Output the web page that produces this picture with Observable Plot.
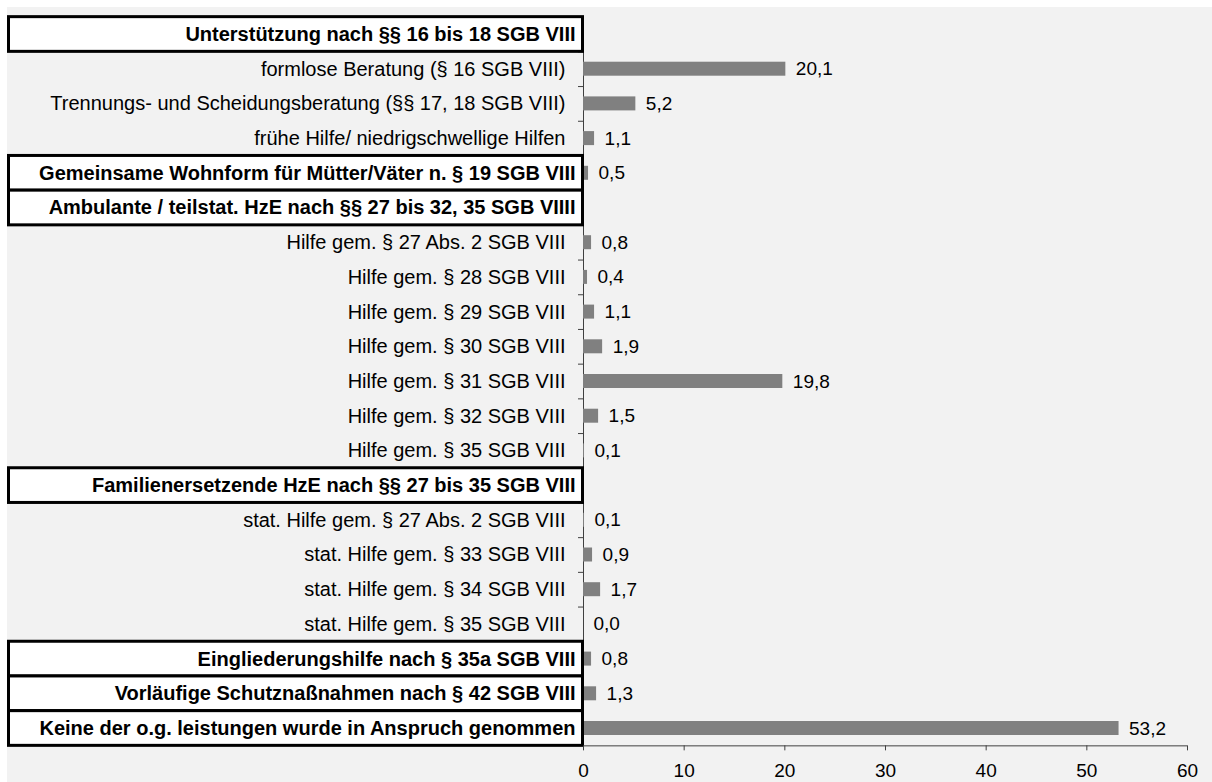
<!DOCTYPE html>
<html>
<head>
<meta charset="utf-8">
<script src="https://cdn.jsdelivr.net/npm/d3@7"></script>
<script src="https://cdn.jsdelivr.net/npm/@observablehq/plot@0.6"></script>
<style>
  html, body { margin: 0; padding: 0; background: #ffffff; }
  #chart { position: absolute; left: 7px; top: 7px; }
  #chart svg { display: block; }
</style>
</head>
<body>
<div id="chart"></div>
<script>
const categories = [
  "Unterstützung nach §§ 16 bis 18 SGB VIII",
  "formlose Beratung (§ 16 SGB VIII)",
  "Trennungs- und Scheidungsberatung (§§ 17, 18 SGB VIII)",
  "frühe Hilfe/ niedrigschwellige Hilfen",
  "Gemeinsame Wohnform für Mütter/Väter n. § 19 SGB VIII",
  "Ambulante / teilstat. HzE nach §§ 27 bis 32, 35 SGB VIIII",
  "Hilfe gem. § 27 Abs. 2 SGB VIII",
  "Hilfe gem. § 28 SGB VIII",
  "Hilfe gem. § 29 SGB VIII",
  "Hilfe gem. § 30 SGB VIII",
  "Hilfe gem. § 31 SGB VIII",
  "Hilfe gem. § 32 SGB VIII",
  "Hilfe gem. § 35 SGB VIII",
  "Familienersetzende HzE nach §§ 27 bis 35 SGB VIII",
  "stat. Hilfe gem. § 27 Abs. 2 SGB VIII",
  "stat. Hilfe gem. § 33 SGB VIII",
  "stat. Hilfe gem. § 34 SGB VIII",
  "stat. Hilfe gem. § 35 SGB VIII",
  "Eingliederungshilfe nach § 35a SGB VIII",
  "Vorläufige Schutznaßnahmen nach § 42 SGB VIII",
  "Keine der o.g. leistungen wurde in Anspruch genommen"
];
const values = [null, 20.1, 5.2, 1.1, 0.5, null, 0.8, 0.4, 1.1, 1.9, 19.8, 1.5, 0.1, null, 0.1, 0.9, 1.7, 0.0, 0.8, 1.3, 53.2];
const isHeader = [true, false, false, false, true, true, false, false, false, false, false, false, false, true, false, false, false, false, true, true, true];
const xTicks = [0, 10, 20, 30, 40, 50, 60];

const rows = categories.map((c, i) => ({category: c, value: values[i], header: isHeader[i]}));
const valueRows = rows.filter(d => d.value !== null);
const headerRows = rows.filter(d => d.header);
const plainRows = rows.filter(d => !d.header);
const gridData = [];
for (const t of xTicks.filter(t => t > 0)) for (const c of categories.slice(1)) gridData.push({x: t, y: c});

const W = 1205, H = 775;
const mL = 576, mR = 25, mT = 9.65, mB = 36.65;
const band = (H - mT - mB) / categories.length;
const barThickness = 14;
const barInset = (band - barThickness) / 2;
const fmt = v => v.toFixed(1).replace(".", ",");
const font = "'Liberation Sans', Arial, sans-serif";

const chart = Plot.plot({
  width: W,
  height: H,
  marginLeft: mL,
  marginRight: mR,
  marginTop: mT,
  marginBottom: mB,
  style: {background: "#f2f2f2", fontFamily: font, fontSize: "19px", color: "#000"},
  x: {domain: [0, 60], axis: null},
  y: {domain: categories, padding: 0, round: false, axis: null},
  marks: [
    Plot.ruleX(gridData, {x: "x", y: "y", stroke: "#ffffff", strokeWidth: 1}),
    Plot.ruleY(categories.slice(1), {y: d => d, x1: 0, x2: 0, insetLeft: -5, dy: -band / 2, stroke: "#404040"}),
    Plot.ruleX([0], {stroke: "#404040"}),
    Plot.ruleY([categories[categories.length - 1]], {y: d => d, dy: band / 2, stroke: "#404040"}),
    Plot.barX(valueRows, {x: "value", y: "category", fill: "#808080", insetTop: barInset, insetBottom: barInset}),
    Plot.barX(headerRows, {x1: 0, x2: 0, y: "category", fill: "#ffffff", stroke: "#000000", strokeWidth: 3, insetLeft: -(mL - 1.5), insetRight: 0.5}),
    Plot.text(plainRows, {x: 0, y: "category", text: "category", textAnchor: "end", dx: -18, fill: "#000", fontSize: 20}),
    Plot.text(headerRows, {x: 0, y: "category", text: "category", textAnchor: "end", dx: -8, fill: "#000", fontSize: 20, fontWeight: "bold"}),
    Plot.text(valueRows, {x: "value", y: "category", text: d => fmt(d.value), textAnchor: "start", dx: 10, fill: "#000", fontSize: 19}),
    Plot.axisX({ticks: xTicks, tickSize: 5, tickPadding: 13, stroke: "#404040", fill: "#000", fontSize: 19, tickFormat: d => String(d)})
  ]
});
document.getElementById("chart").appendChild(chart);
</script>
</body>
</html>
